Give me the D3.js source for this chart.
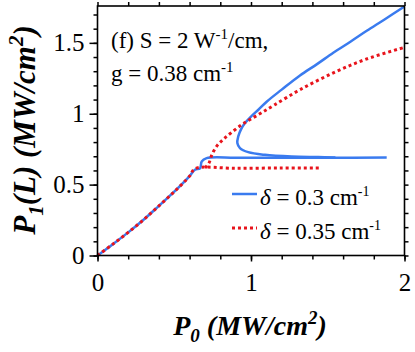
<!DOCTYPE html>
<html>
<head>
<meta charset="utf-8">
<script src="https://cdn.jsdelivr.net/npm/d3@7"></script>
<style>
  html, body { margin: 0; padding: 0; background: #fff; }
  svg { display: block; }
  svg text { font-family: "Liberation Serif", "Times New Roman", serif; }
</style>
</head>
<body>
<svg id="chart" width="415" height="352"></svg>
<script>
// values (P0 and P1 in MW/cm^2)
const blueLowP0 = [0, 0.1, 0.2, 0.3, 0.4, 0.5, 0.6, 0.635, 0.668, 0.679, 0.711, 0.9, 1.2, 1.5, 1.884]
const blueLowP1 = [0, 0.08, 0.163, 0.252, 0.35, 0.45, 0.56, 0.605, 0.615, 0.663, 0.687, 0.69, 0.69, 0.69, 0.691]
const blueHookP0 = [1.55, 1.438, 1.265, 1.091, 0.982, 0.928, 0.911, 0.917, 0.935, 0.961, 1.0, 1.048, 1.102, 1.2, 1.319, 1.43, 1.536, 1.65, 1.754, 1.87, 2.0]
const blueHookP1 = [0.691, 0.694, 0.698, 0.71, 0.729, 0.758, 0.793, 0.84, 0.89, 0.934, 0.98, 1.028, 1.085, 1.17, 1.27, 1.35, 1.43, 1.51, 1.585, 1.665, 1.757]
const redLowP0 = [0, 0.1, 0.2, 0.3, 0.4, 0.5, 0.6, 0.635, 0.9, 1.2, 1.45]
const redLowP1 = [0, 0.08, 0.163, 0.252, 0.35, 0.45, 0.56, 0.612, 0.615, 0.617, 0.618]
const redUpP0 = [0.70, 0.725, 0.745, 0.776, 0.82, 0.87, 0.95, 1.05, 1.15, 1.32, 1.54, 1.75, 2.0]
const redUpP1 = [0.618, 0.65, 0.71, 0.77, 0.82, 0.865, 0.93, 0.995, 1.06, 1.17, 1.29, 1.385, 1.468]

const xMajor = [0, 1, 2]
const yMajor = [0, 0.5, 1, 1.5]
const legendLabels = ["0.3", "0.35"]

const blue = "#3a7bef"
const red = "#e8141c"
const serif = "'Liberation Serif', 'Times New Roman', serif"

const svg = d3.select("#chart")
const m = {top: 6, right: 10.5, bottom: 96.5, left: 97.5}
const W = 415, H = 352

const x = d3.scaleLinear().domain([0, 2]).range([m.left, W - m.right])
const y = d3.scaleLinear().domain([0, 1.76]).range([H - m.bottom, m.top])

const zip = (a, b) => a.map((v, i) => [v, b[i]])
const line = d3.line().x((d) => x(d[0])).y((d) => y(d[1])).curve(d3.curveCatmullRom.alpha(0.5))

const plot = svg.append("g")

plot.append("path").attr("d", line(zip(blueLowP0, blueLowP1)))
  .attr("fill", "none").attr("stroke", blue).attr("stroke-width", 2.5)
plot.append("path").attr("d", line(zip(blueHookP0, blueHookP1)))
  .attr("fill", "none").attr("stroke", blue).attr("stroke-width", 2.5)

plot.append("path").attr("d", line(zip(redLowP0, redLowP1)))
  .attr("fill", "none").attr("stroke", red).attr("stroke-width", 3).attr("stroke-dasharray", "3,3")
plot.append("path").attr("d", line(zip(redUpP0, redUpP1)))
  .attr("fill", "none").attr("stroke", red).attr("stroke-width", 3).attr("stroke-dasharray", "3,3")

// axes: minor + major ticks, all outward
const xMinor = d3.range(0, 2.001, 0.2)
const yMinor = d3.range(0, 1.76, 0.1)
const styleAx = (gg) => {
  gg.attr("font-family", null).attr("font-size", null)
  gg.select(".domain").remove()
  gg.selectAll("line").attr("stroke", "#000").attr("stroke-width", 1.5)
  gg.selectAll("text").style("font-family", serif).style("font-size", "25px").attr("fill", "#000")
}

svg.append("g").attr("transform", `translate(0,${y(0)})`)
  .call(d3.axisBottom(x).tickValues(xMinor).tickSize(4).tickFormat(""))
  .call(styleAx)
svg.append("g").attr("transform", `translate(0,${y(0)})`)
  .call(d3.axisBottom(x).tickValues(xMajor).tickSize(6).tickPadding(12).tickFormat(d3.format("d")))
  .call(styleAx)
svg.append("g").attr("transform", `translate(0,${m.top})`)
  .call(d3.axisTop(x).tickValues(xMinor).tickSize(4).tickFormat(""))
  .call(styleAx)

svg.append("g").attr("transform", `translate(${x(0)},0)`)
  .call(d3.axisLeft(y).tickValues(yMinor).tickSize(4).tickFormat(""))
  .call(styleAx)
svg.append("g").attr("transform", `translate(${x(0)},0)`)
  .call(d3.axisLeft(y).tickValues(yMajor).tickSize(8).tickPadding(5).tickFormat((d) => String(d)))
  .call(styleAx)
svg.append("g").attr("transform", `translate(${x(2)},0)`)
  .call(d3.axisRight(y).tickValues(yMinor).tickSize(4).tickFormat(""))
  .call(styleAx)

svg.append("rect")
  .attr("x", x(0)).attr("y", y(1.76))
  .attr("width", x(2) - x(0)).attr("height", y(0) - y(1.76))
  .attr("fill", "none").attr("stroke", "#000").attr("stroke-width", 1.6)

// annotation
const ann1 = svg.append("text").attr("x", 111).attr("y", 48)
  .style("font-size", "23px")
ann1.append("tspan").text("(f) S = 2 W")
ann1.append("tspan").attr("dy", -9).style("font-size", "15px").text("-1")
ann1.append("tspan").attr("dy", 9).text("/cm,")

const ann2 = svg.append("text").attr("x", 111).attr("y", 81)
  .style("font-size", "23px")
ann2.append("tspan").text("g = 0.38 cm")
ann2.append("tspan").attr("dy", -9).style("font-size", "15px").text("-1")

// legend
const legend = svg.append("g")
const legY = [194, 228]
const legColor = [blue, red]
legendLabels.forEach((lab, i) => {
  legend.append("line")
    .attr("x1", 232).attr("x2", 257).attr("y1", legY[i]).attr("y2", legY[i])
    .attr("stroke", legColor[i]).attr("stroke-width", i ? 3 : 2.5)
    .attr("stroke-dasharray", i ? "3,3" : null)
  const t = legend.append("text").attr("x", 260).attr("y", legY[i] + 11)
    .style("font-size", "23px")
  t.append("tspan").style("font-style", "italic").text("δ")
  t.append("tspan").text(` = ${lab} cm`)
  t.append("tspan").attr("dy", -9).style("font-size", "14px").text("-1")
})

// axis titles
const xt = svg.append("text").attr("x", 250).attr("y", 335)
  .attr("text-anchor", "middle")
  .style("font-size", "28px").style("font-weight", "bold").style("font-style", "italic")
xt.append("tspan").text("P")
xt.append("tspan").attr("dy", 7).style("font-size", "19px").text("0")
xt.append("tspan").attr("dy", -7).text(" (MW/cm")
xt.append("tspan").attr("dy", -11).style("font-size", "19px").text("2")
xt.append("tspan").attr("dy", 11).text(")")

const yt = svg.append("text")
  .attr("transform", "translate(35,130) rotate(-90)")
  .attr("text-anchor", "middle")
  .style("font-size", "31px").style("font-weight", "bold").style("font-style", "italic")
yt.append("tspan").text("P")
yt.append("tspan").attr("dy", 8).style("font-size", "21px").text("1")
yt.append("tspan").attr("dy", -8).text("(L) (MW/cm")
yt.append("tspan").attr("dy", -12).style("font-size", "21px").text("2")
yt.append("tspan").attr("dy", 12).text(")")
</script>
</body>
</html>
